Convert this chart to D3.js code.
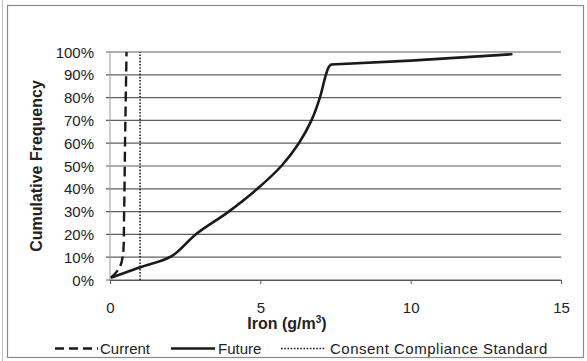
<!DOCTYPE html>
<html><head><meta charset="utf-8">
<script src="https://cdn.jsdelivr.net/npm/d3@7"></script>
<style>body{margin:0;background:#fff;}svg{display:block;font-family:"Liberation Sans",Arial,sans-serif;}</style>
</head><body><svg id="c" width="587" height="361"></svg>
<script>
const xTicks = [0, 5, 10, 15];
const yTicks = [0, 0.1, 0.2, 0.3, 0.4, 0.5, 0.6, 0.7, 0.8, 0.9, 1.0];
const currentX = [0.03, 0.3, 0.42, 0.47, 0.5, 0.55];
const currentY = [0.01, 0.05, 0.10, 0.30, 0.60, 1.00];
const futureX = [0.03, 1.0, 2.05, 2.85, 3.95, 4.9, 5.7, 6.28, 6.7, 6.98, 7.18, 7.28, 7.36];
const futureY = [0.01, 0.056, 0.105, 0.20, 0.30, 0.40, 0.50, 0.60, 0.70, 0.80, 0.90, 0.935, 0.945];
const futureTopX = [7.36, 10.0, 13.35];
const futureTopY = [0.945, 0.962, 0.99];
const standardX = [1.0, 1.0];
const standardY = [0, 1.0];
const legendLabels = ["Current", "Future", "Consent Compliance Standard"];

const svg = d3.select("#c");
const x = d3.scaleLinear().domain([0, 15]).range([110, 561]);
const y = d3.scaleLinear().domain([0, 1]).range([280, 52]);

// frame
svg.append("rect").attr("x", 7.5).attr("y", 5.5).attr("width", 576).attr("height", 352)
  .attr("fill", "none").attr("stroke", "#8a8a8a").attr("stroke-width", 1.2);
svg.append("line").attr("x1", 2.5).attr("x2", 2.5).attr("y1", 0).attr("y2", 361)
  .attr("stroke", "#bbb").attr("stroke-width", 1);

// gridlines
svg.append("g").selectAll("line").data(yTicks).join("line")
  .attr("x1", 106).attr("x2", 561).attr("y1", d => y(d)).attr("y2", d => y(d))
  .attr("stroke", "#5e5e5e").attr("stroke-width", 1.2);

// y axis line
svg.append("line").attr("x1", x(0)).attr("x2", x(0)).attr("y1", y(0)).attr("y2", y(1))
  .attr("stroke", "#999").attr("stroke-width", 1);

// y labels
svg.append("g").selectAll("text").data(yTicks).join("text")
  .attr("x", 94).attr("y", d => y(d) + 5.5).attr("text-anchor", "end")
  .attr("font-size", 15).attr("fill", "#222").text(d => d3.format(".0%")(d));

// x axis
const xa = svg.append("g").attr("transform", `translate(0,${y(0)})`)
  .call(d3.axisBottom(x).tickValues(xTicks).tickSize(4).tickPadding(18).tickFormat(d3.format("d")));
xa.select(".domain").attr("stroke", "#555");
xa.selectAll(".tick line").attr("stroke", "#555");
xa.selectAll("text").attr("font-size", 15).attr("fill", "#222").attr("font-family", "Liberation Sans, Arial, sans-serif");

// axis titles
const xt = svg.append("text").attr("x", 287).attr("y", 329).attr("text-anchor", "middle")
  .attr("font-size", 16).attr("font-weight", "bold").attr("fill", "#222");
xt.append("tspan").text("Iron (g/m");
xt.append("tspan").attr("font-size", 10).attr("dy", -6).text("3");
xt.append("tspan").attr("dy", 6).text(")");

svg.append("text").attr("transform", "translate(42,166) rotate(-90)").attr("text-anchor", "middle")
  .attr("font-size", 16).attr("font-weight", "bold").attr("fill", "#222").text("Cumulative Frequency");

const lineLin = d3.line().x(d => x(d[0])).y(d => y(d[1]));
const lineSmooth = d3.line().x(d => x(d[0])).y(d => y(d[1])).curve(d3.curveCatmullRom.alpha(0.5));

// standard (dotted)
svg.append("path").datum(d3.zip(standardX, standardY)).attr("d", lineLin)
  .attr("fill", "none").attr("stroke", "#222").attr("stroke-width", 1.6).attr("stroke-dasharray", "1.6,1.6");

// current (dashed)
svg.append("path").datum(d3.zip(currentX, currentY)).attr("d", lineSmooth)
  .attr("fill", "none").attr("stroke", "#1a1a1a").attr("stroke-width", 2.4).attr("stroke-dasharray", "10,5");

// future (solid)
svg.append("path").datum(d3.zip(futureX, futureY)).attr("d", lineSmooth)
  .attr("fill", "none").attr("stroke", "#1a1a1a").attr("stroke-width", 2.6).attr("stroke-linejoin", "round");
svg.append("path").datum(d3.zip(futureTopX, futureTopY)).attr("d", lineLin)
  .attr("fill", "none").attr("stroke", "#1a1a1a").attr("stroke-width", 2.6).attr("stroke-linecap", "round");

// legend
const lg = svg.append("g");
const items = [
  {x1: 55, x2: 98, tx: 100, dash: "9,5", w: 2.4, ls: 0},
  {x1: 171, x2: 215, tx: 218, dash: null, w: 2.6, ls: 0},
  {x1: 281, x2: 326, tx: 330, dash: "1.6,1.6", w: 1.6, ls: 0.5}
];
items.forEach((it, i) => {
  lg.append("line").attr("x1", it.x1).attr("x2", it.x2).attr("y1", 348.5).attr("y2", 348.5)
    .attr("stroke", "#1a1a1a").attr("stroke-width", it.w).attr("stroke-dasharray", it.dash);
  lg.append("text").attr("x", it.tx).attr("y", 354).attr("font-size", 15).attr("letter-spacing", it.ls)
    .attr("fill", "#222").text(legendLabels[i]);
});
</script></body></html>
